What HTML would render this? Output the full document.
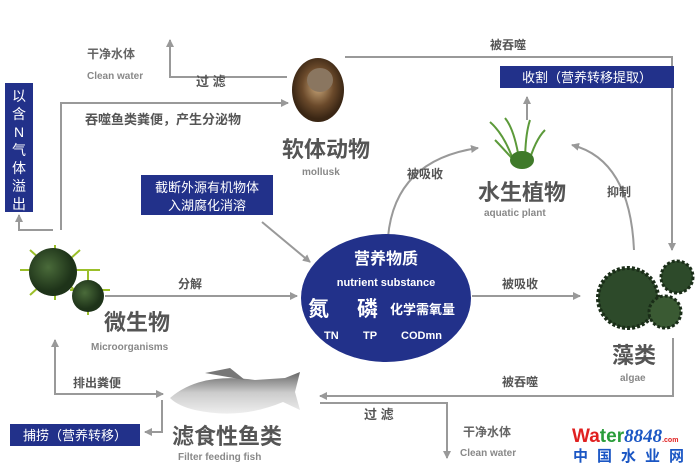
<!DOCTYPE html>
<html><head><meta charset="utf-8"><style>
body{margin:0;background:#fff;width:700px;height:471px;overflow:hidden}
svg{display:block}
text{font-family:"Liberation Sans","Noto Sans CJK SC",sans-serif}
.g{fill:#555;font-weight:bold}
.l{fill:#666;font-size:12px}
.e{fill:#888;font-weight:bold;font-size:10px}
.w{fill:#fff}
</style></head><body>
<svg width="700" height="471" viewBox="0 0 700 471">
<defs>
<marker id="a" markerWidth="8" markerHeight="8" refX="7" refY="4" orient="auto" markerUnits="userSpaceOnUse"><path d="M0,0L8,4L0,8z" fill="#999"/></marker>
<radialGradient id="vg" cx="40%" cy="40%"><stop offset="0" stop-color="#4a6b3a"/><stop offset="1" stop-color="#1e3319"/></radialGradient>
<radialGradient id="sg" cx="50%" cy="45%"><stop offset="0" stop-color="#c9a77a"/><stop offset=".6" stop-color="#6b4a2b"/><stop offset="1" stop-color="#3a2614"/></radialGradient>
<linearGradient id="fg" x1="0" y1="0" x2="0" y2="1"><stop offset="0" stop-color="#666"/><stop offset=".5" stop-color="#ccc"/><stop offset="1" stop-color="#eee"/></linearGradient>
</defs>
<g stroke="#999" stroke-width="2" fill="none">
<path d="M287,77H170V40" marker-end="url(#a)"/>
<path d="M61,230V103H288" marker-end="url(#a)"/>
<path d="M53,230H19V215" marker-end="url(#a)"/>
<path d="M262,222L310,262" marker-end="url(#a)"/>
<path d="M345,57H672V250" marker-end="url(#a)"/>
<path d="M527,120V97" marker-end="url(#a)"/>
<path d="M388,237Q395,160 478,148" marker-end="url(#a)"/>
<path d="M634,250Q630,160 572,145" marker-end="url(#a)"/>
<path d="M105,296H297" marker-end="url(#a)"/>
<path d="M472,296H580" marker-end="url(#a)"/>
<path d="M673,338V396H320" marker-end="url(#a)"/>
<path d="M320,403H447V458" marker-end="url(#a)"/>
<path d="M163,394H55V340" marker-end="url(#a)"/>
<path d="M55,394H163" marker-end="url(#a)"/>
<path d="M162,400V432H145" marker-end="url(#a)"/>
</g>
<ellipse cx="386" cy="298" rx="85" ry="64" fill="#22318a"/>
<text x="386" y="264" class="w" font-size="16" font-weight="bold" text-anchor="middle">营养物质</text>
<text x="386" y="286" class="w" font-size="11" font-weight="bold" text-anchor="middle">nutrient substance</text>
<text x="308" y="316" class="w" font-size="21" font-weight="bold">氮</text>
<text x="357" y="316" class="w" font-size="21" font-weight="bold">磷</text>
<text x="390" y="314" class="w" font-size="13" font-weight="bold">化学需氧量</text>
<text x="324" y="339" class="w" font-size="11" font-weight="bold">TN</text>
<text x="363" y="339" class="w" font-size="11" font-weight="bold">TP</text>
<text x="401" y="339" class="w" font-size="11" font-weight="bold">CODmn</text>
<rect x="5" y="83" width="28" height="129" fill="#22318a"/>
<g class="w" font-size="14" text-anchor="middle"><text x="19" y="101">以</text><text x="19" y="119">含</text><text x="19" y="137">N</text><text x="19" y="155">气</text><text x="19" y="173">体</text><text x="19" y="191">溢</text><text x="19" y="209">出</text></g>
<rect x="141" y="175" width="132" height="40" fill="#22318a"/>
<text x="207" y="192" class="w" font-size="13" text-anchor="middle">截断外源有机物体</text>
<text x="207" y="210" class="w" font-size="13" text-anchor="middle">入湖腐化消溶</text>
<rect x="500" y="66" width="174" height="22" fill="#22318a"/>
<text x="587" y="82" class="w" font-size="13" text-anchor="middle">收割（营养转移提取）</text>
<rect x="10" y="424" width="130" height="22" fill="#22318a"/>
<text x="75" y="440" class="w" font-size="13" text-anchor="middle">捕捞（营养转移）</text>
<!-- snail -->
<ellipse cx="318" cy="90" rx="26" ry="32" fill="url(#sg)"/>
<ellipse cx="320" cy="80" rx="13" ry="12" fill="#8a7660"/>
<!-- grass -->
<g stroke="#5c9a3a" stroke-width="2" fill="none"><path d="M515,165Q505,135 490,122"/><path d="M520,165Q515,130 505,118"/><path d="M525,165Q525,135 530,120"/><path d="M528,165Q535,140 545,130"/><path d="M518,165Q500,145 495,140"/></g>
<ellipse cx="522" cy="160" rx="12" ry="9" fill="#3f7a2a"/>
<!-- virus -->
<g stroke="#9bbf2a" stroke-width="2"><path d="M20,270h80M55,245v55M30,250l50,45M80,250l-50,45M70,290h40M88,270v45"/></g>
<circle cx="53" cy="272" r="24" fill="url(#vg)"/>
<circle cx="88" cy="296" r="16" fill="url(#vg)"/>
<!-- algae -->
<circle cx="628" cy="298" r="30" fill="#2d4a2a" stroke="#1a2d18" stroke-dasharray="3 2" stroke-width="4"/>
<circle cx="677" cy="277" r="16" fill="#2d4a2a" stroke="#1a2d18" stroke-dasharray="3 2" stroke-width="3"/>
<circle cx="665" cy="312" r="16" fill="#3a5a33" stroke="#1a2d18" stroke-dasharray="3 2" stroke-width="3"/>
<!-- fish -->
<path d="M170,398Q200,372 255,380L285,378L300,372L295,392L300,410L283,402Q240,420 195,410Q178,406 170,398z" fill="url(#fg)"/>
<path d="M205,373L230,368L245,380z" fill="#777"/>
<!-- labels -->
<text x="87" y="58" class="l" font-weight="bold">干净水体</text>
<text x="87" y="79" class="e">Clean water</text>
<text x="196" y="86" class="g" font-size="13">过 滤</text>
<text x="85" y="124" class="g" font-size="13">吞噬鱼类粪便，产生分泌物</text>
<text x="282" y="157" class="g" font-size="22" fill="#555">软体动物</text>
<text x="302" y="175" class="e">mollusk</text>
<text x="490" y="49" class="g" font-size="12">被吞噬</text>
<text x="407" y="178" class="g" font-size="12">被吸收</text>
<text x="478" y="200" class="g" font-size="22">水生植物</text>
<text x="484" y="216" class="e">aquatic plant</text>
<text x="607" y="196" class="g" font-size="12">抑制</text>
<text x="104" y="330" class="g" font-size="22">微生物</text>
<text x="91" y="350" class="e">Microorganisms</text>
<text x="178" y="288" class="g" font-size="12">分解</text>
<text x="502" y="288" class="g" font-size="12">被吸收</text>
<text x="612" y="363" class="g" font-size="22">藻类</text>
<text x="620" y="381" class="e">algae</text>
<text x="502" y="386" class="g" font-size="12">被吞噬</text>
<text x="73" y="387" class="g" font-size="12">排出粪便</text>
<text x="172" y="444" class="g" font-size="22">滤食性鱼类</text>
<text x="178" y="460" class="e">Filter feeding fish</text>
<text x="364" y="419" class="g" font-size="13">过 滤</text>
<text x="463" y="436" class="l" font-weight="bold">干净水体</text>
<text x="460" y="456" class="e">Clean water</text>
<text x="572" y="442" font-size="19" font-weight="bold" fill="#e02020">Wa<tspan fill="#2a9d3a">ter</tspan><tspan fill="#1a56c4" font-style="italic" font-family="Liberation Serif">8848</tspan><tspan fill="#e02020" font-size="7">.com</tspan></text>
<text x="573" y="461" font-size="15" font-weight="bold" fill="#1a56c4" letter-spacing="9">中国水业网</text>
</svg>
</body></html>
